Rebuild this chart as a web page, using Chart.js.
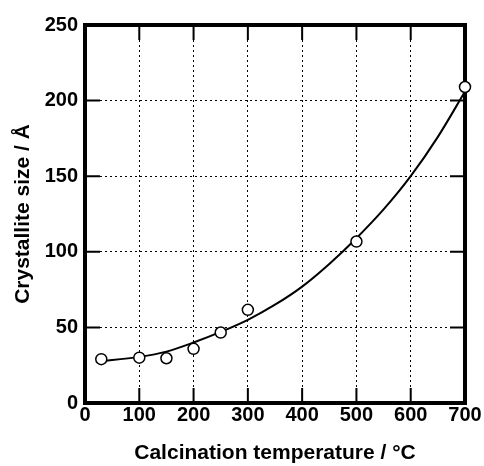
<!DOCTYPE html>
<html><head><meta charset="utf-8">
<script src="https://cdn.jsdelivr.net/npm/chart.js@4"></script>
<style>html,body{margin:0;padding:0;background:#fff}#wrap{width:484px;height:466px}</style>
</head><body><div id="wrap"><canvas id="c" width="484" height="466"></canvas></div>
<script>
// measured points
const temperatures = [30, 100, 150, 200, 250, 300, 500, 700];
const crystalliteSizes = [29, 30, 29.6, 35.8, 46.6, 61.6, 106.8, 209];
// fitted curve
const fitTemperatures = [25, 100, 150, 200, 250, 300, 350, 400, 450, 500, 550, 600, 650, 700];
const fitSizes = [27.5, 30.5, 34, 40, 47, 55, 65, 77, 92, 109, 128, 150, 176, 206];
// ticks
const xTicks = [0, 100, 200, 300, 400, 500, 600, 700];
const yTicks = [0, 50, 100, 150, 200, 250];
const xTitle = 'Calcination temperature / °C';
const yTitle = 'Crystallite size / Å';

const FONT = "'Liberation Sans', Arial, Helvetica, sans-serif";

const framePlugin = {
  id: 'frame',
  beforeDatasetsDraw(chart) {
    const {ctx, chartArea: a, scales} = chart;
    ctx.save();
    ctx.strokeStyle = '#000';
    ctx.lineWidth = 2;
    const L = 15;
    scales.x.ticks.forEach(t => {
      const px = scales.x.getPixelForValue(t.value);
      ctx.beginPath();
      ctx.moveTo(px, a.bottom); ctx.lineTo(px, a.bottom - L);
      ctx.moveTo(px, a.top); ctx.lineTo(px, a.top + L);
      ctx.stroke();
    });
    scales.y.ticks.forEach(t => {
      const py = scales.y.getPixelForValue(t.value);
      ctx.beginPath();
      ctx.moveTo(a.left, py); ctx.lineTo(a.left + L, py);
      ctx.moveTo(a.right, py); ctx.lineTo(a.right - L, py);
      ctx.stroke();
    });
    ctx.lineWidth = 4;
    ctx.strokeRect(a.left, a.top, a.right - a.left, a.bottom - a.top);
    ctx.restore();
  }
};

new Chart(document.getElementById('c'), {
  type: 'scatter',
  data: {
    datasets: [
      {
        data: temperatures.map((t, i) => ({x: t, y: crystalliteSizes[i]})),
        pointRadius: 5.5,
        pointBorderWidth: 1.5,
        pointBackgroundColor: '#fff',
        pointBorderColor: '#000',
        showLine: false,
        clip: false
      },
      {
        data: fitTemperatures.map((t, i) => ({x: t, y: fitSizes[i]})),
        showLine: true,
        pointRadius: 0,
        borderColor: '#000',
        borderWidth: 2,
        cubicInterpolationMode: 'monotone',
        clip: false
      }
    ]
  },
  options: {
    responsive: false,
    devicePixelRatio: 1,
    animation: false,
    layout: {padding: {top: 25, right: 19, left: 0, bottom: 0}},
    plugins: {legend: {display: false}, tooltip: {enabled: false}},
    scales: {
      x: {
        type: 'linear', min: 0, max: 700,
        afterBuildTicks: s => { s.ticks = xTicks.map(v => ({value: v})); },
        afterFit: s => { s.height = 63; },
        grid: {color: '#000', lineWidth: 1, drawTicks: false},
        border: {display: false, dash: [2, 3]},
        ticks: {color: '#000', padding: 0, maxRotation: 0, autoSkip: false,
                font: {family: FONT, weight: 'bold', size: 20}},
        title: {display: true, text: xTitle, color: '#000', padding: {top: 0, bottom: 0},
                font: {family: FONT, weight: 'bold', size: 21}}
      },
      y: {
        type: 'linear', min: 0, max: 250,
        afterBuildTicks: s => { s.ticks = yTicks.map(v => ({value: v})); },
        afterFit: s => { s.width = 85; },
        grid: {color: '#000', lineWidth: 1, drawTicks: false},
        border: {display: false, dash: [2, 3]},
        ticks: {color: '#000', padding: 7, autoSkip: false,
                font: {family: FONT, weight: 'bold', size: 20}},
        title: {display: true, text: yTitle, color: '#000', padding: {top: 11, bottom: 0},
                font: {family: FONT, weight: 'bold', size: 21}}
      }
    }
  },
  plugins: [framePlugin]
});
</script>
</body></html>
